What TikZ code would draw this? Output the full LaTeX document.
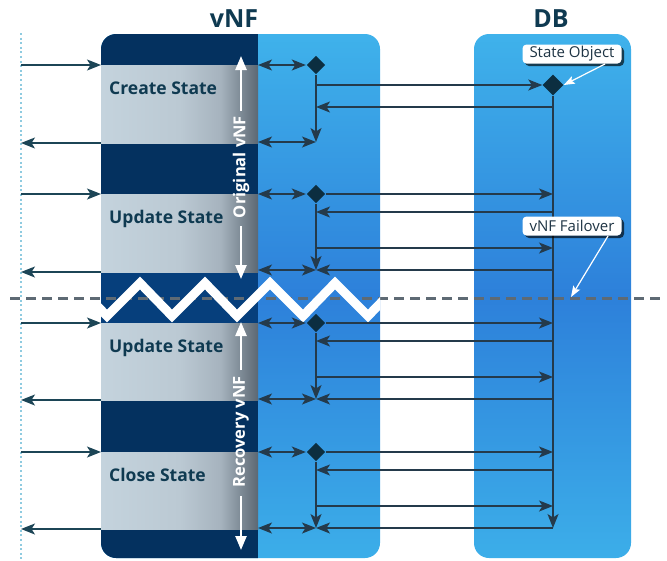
\documentclass[tikz,border=0pt]{standalone}
\usepackage{fontspec}
\setmainfont{Open Sans}
\usetikzlibrary{arrows.meta,shapes.geometric,shadows}
\definecolor{navy}{HTML}{04315F}
\definecolor{navyband}{HTML}{063F7C}
\definecolor{bTop}{HTML}{3FB2EB}
\definecolor{bMid}{HTML}{2D80DA}
\definecolor{bBot}{HTML}{3CAEE9}
\definecolor{gA}{HTML}{C4D3DD}
\definecolor{gB}{HTML}{BBC9D3}
\definecolor{gB2}{HTML}{A6B3BE}
\definecolor{gC}{HTML}{5C6873}
\definecolor{lineC}{HTML}{243A4B}
\definecolor{leftC}{HTML}{1C4556}
\definecolor{txt}{HTML}{0F3A51}
\definecolor{dotC}{HTML}{8FCBE0}
\definecolor{dashC}{HTML}{5E6A74}
\definecolor{diamC}{HTML}{0C2E40}
\definecolor{callT}{HTML}{1E3444}
\pgfdeclareverticalshading{bluepanel}{100bp}{color(0bp)=(bBot); color(25bp)=(bBot); color(50bp)=(bMid); color(75bp)=(bTop); color(100bp)=(bTop)}
\pgfdeclarehorizontalshading{greypanel}{100bp}{color(0bp)=(gA); color(25bp)=(gA); color(50bp)=(gB); color(63bp)=(gB2); color(75bp)=(gC); color(100bp)=(gC)}
\tikzset{
  >={Stealth[length=14pt,width=11pt,inset=3.5pt]},
  conn/.style={draw=lineC, line width=1.4pt},
  leftarr/.style={draw=leftC, line width=1.4pt, ->},
  warr/.style={draw=white, line width=2.4pt, -{Triangle[length=14pt,width=11pt]}},
  diam/.style={shape=diamond, fill=diamC, inner sep=0pt, minimum width=19pt, minimum height=19pt},
  statelbl/.style={font=\fontsize{17.5}{20}\bfseries\selectfont, text=txt, anchor=base west, inner sep=0pt},
  sidelbl/.style={font=\fontsize{16.5}{20}\bfseries\selectfont, text=white, rotate=90, inner sep=0pt},
  title/.style={font=\fontsize{25}{28}\bfseries\selectfont, text=txt, anchor=base, inner sep=0pt},
  callout/.style={fill=white, rounded corners=4pt, minimum width=99pt, minimum height=19pt, inner sep=0pt,
     font=\fontsize{15}{16}\selectfont, text=callT,
     drop shadow={shadow xshift=2.5pt, shadow yshift=-2.5pt, opacity=0.65, fill=black}},
  callarr/.style={draw=white, line width=1.2pt, -{Stealth[length=11pt,width=8pt,inset=2pt]}}
}
\begin{document}
\begin{tikzpicture}[x=1pt,y=-1pt]
\useasboundingbox (0,0) rectangle (667,560);
% dotted client line
\coordinate (dotTop) at (21,33);
\coordinate (dotBot) at (21,560);
\draw[dotC, line width=2pt, dash pattern=on 2pt off 2.6pt] (dotTop) -- (dotBot);
% titles
\node[title] (tvnf) at (234,27) {vNF};
\node[title] (tdb) at (551,27) {DB};
% vNF box
\shade[shading=bluepanel, rounded corners=15pt] (101,34) rectangle (380,558);
\begin{scope}
  \clip[rounded corners=15pt] (101,34) rectangle (380,558);
  \fill[navy] (101,30) rectangle (258,562);
  \fill[navyband] (101,272) rectangle (258,323);
  \foreach \t/\b in {65/143,194/272,323/400,452/529}{
    \shade[shading=greypanel] (101,\t) rectangle (258,\b);
  }
\end{scope}
% DB box
\shade[shading=bluepanel, rounded corners=15pt] (474,34) rectangle (631,558);
% failover dashed line
\coordinate (dashL) at (10,298);
\coordinate (dashR) at (660,298);
\draw[dashC, line width=3pt, dash pattern=on 10pt off 6pt] (dashL) -- (dashR);
% zigzag
\begin{scope}
  \clip (101,260) rectangle (380,330);
  \draw[white, line width=9pt, line join=miter]
    (75,283) -- (107,316) -- (140,283) -- (172,316) -- (205,283) -- (237,316)
    -- (270,283) -- (303,316) -- (335,283) -- (368,316) -- (400,283);
\end{scope}
% state labels
\node[statelbl] (lc) at (109,94) {Create State};
\node[statelbl] (lu1) at (109,223) {Update State};
\node[statelbl] (lu2) at (109,352) {Update State};
\node[statelbl] (lcl) at (109,481) {Close State};
% client arrows
\foreach \n/\t/\b in {c/65/143,u1/194/272,u2/323/400,cl/452/529}{
  \coordinate (\n-ci) at (21,\t);
  \coordinate (\n-vi) at (101,\t);
  \coordinate (\n-vo) at (101,\b);
  \coordinate (\n-co) at (21,\b);
  \draw[leftarr] (\n-ci) -- (\n-vi);
  \draw[leftarr] (\n-vo) -- (\n-co);
}
% side labels with white arrows
\node[sidelbl] (orig) at (241,167) {Original vNF};
\node[sidelbl] (recv) at (241,432) {Recovery vNF};
\coordinate (oUp) at (241,56);
\coordinate (oDn) at (241,279);
\coordinate (rUp) at (241,322);
\coordinate (rDn) at (241,550);
\draw[warr] (orig.east) ++(0,-5) -- (oUp);
\draw[warr] (orig.west) ++(0,8) -- (oDn);
\draw[warr] (recv.east) ++(0,-6) -- (rUp);
\draw[warr] (recv.west) ++(0,8) -- (rDn);
% DB state object
\node[diam, minimum width=21pt, minimum height=21pt] (sobj) at (553,85) {};
\coordinate (dbEnd) at (553,528);
% connectors
\begin{scope}[conn]
  \node[diam] (c-d) at (316,65) {};
  \coordinate (c-a) at (258,65);
  \coordinate (c-s) at (316,85);
  \coordinate (c-r1) at (553,107);
  \coordinate (c-r1e) at (316,107);
  \coordinate (c-m) at (316,142);
  \coordinate (c-b) at (258,142);
  \draw[<->] (c-a) -- (c-d.west);
  \draw[->] (c-s) -- (sobj.west);
  \draw[->] (c-r1) -- (c-r1e);
  \draw[->] (c-d.south) -- (c-m);
  \draw[<->] (c-b) -- (c-m);
  \draw[->] (sobj.south) -- (dbEnd);
  \foreach \n/\T in {u1/194,u2/323,cl/452}{
    \node[diam] (\n-d) at (316,\T) {};
    \coordinate (\n-a) at (258,\T);
    \coordinate (\n-db) at (553,\T);
    \coordinate (\n-r1) at (553,\T+18);
    \coordinate (\n-r1e) at (316,\T+18);
    \coordinate (\n-s) at (316,\T+54);
    \coordinate (\n-se) at (553,\T+54);
    \coordinate (\n-m) at (316,\T+76);
    \coordinate (\n-b) at (258,\T+76);
    \coordinate (\n-r2) at (553,\T+76);
    \draw[<->] (\n-a) -- (\n-d.west);
    \draw[->] (\n-d.east) -- (\n-db);
    \draw[->] (\n-r1) -- (\n-r1e);
    \draw[->] (\n-d.south) -- (\n-m);
    \draw[->] (\n-s) -- (\n-se);
    \draw[->] (\n-r2) -- (\n-m);
    \draw[<->] (\n-b) -- (\n-m);
  }
\end{scope}
% callouts
\node[callout] (so) at (572,54) {State Object};
\node[callout] (fo) at (572,226) {vNF Failover};
\coordinate (soT) at (605,64);
\coordinate (foT) at (608,236);
\coordinate (foP) at (571,297);
\draw[callarr] (soT) -- (sobj.east);
\draw[callarr] (foT) -- (foP);
\end{tikzpicture}
\end{document}
